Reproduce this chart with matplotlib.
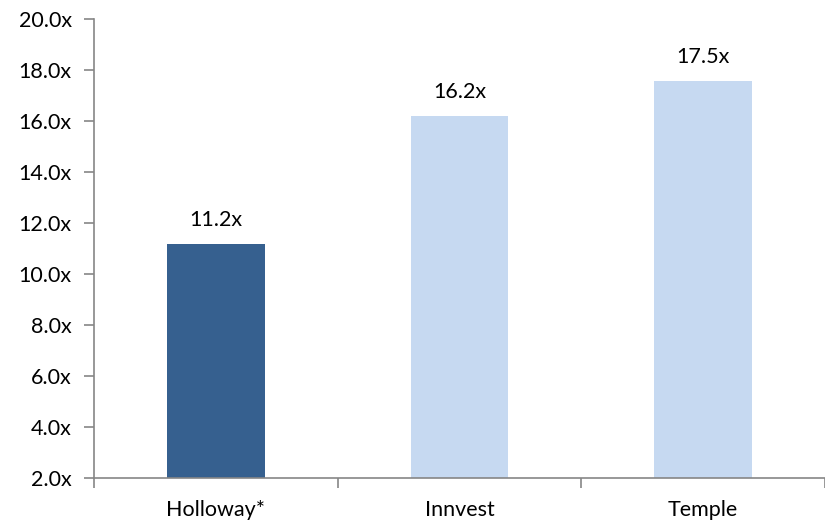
import matplotlib as mpl
mpl.use("Agg")
import matplotlib.pyplot as plt
from matplotlib.ticker import FixedLocator

categories = ["Holloway*", "Innvest", "Temple"]
values = [11.18, 16.2, 17.57]
value_labels = ["11.2x", "16.2x", "17.5x"]
bar_colors = ["#36608f", "#c6d9f1", "#c6d9f1"]
yticks = [2, 4, 6, 8, 10, 12, 14, 16, 18, 20]

plt.rcParams["font.family"] = ["Lato", "DejaVu Sans"]
plt.rcParams["font.size"] = 15.5

fig = plt.figure(figsize=(8.25, 5.21), dpi=100)
ax = fig.add_axes([94 / 825, 43 / 521, 731 / 825, 459 / 521])

x = list(range(len(categories)))
ax.bar(x, [v - 2 for v in values], bottom=2, width=0.4, color=bar_colors)

for xi, v, lab in zip(x, values, value_labels):
    ax.annotate(lab, (xi, v), xytext=(0, 10), textcoords="offset points",
                ha="center", va="bottom")

ax.set_xlim(-0.5, len(categories) - 0.5)
ax.set_ylim(2, 20)
ax.set_yticks(yticks)
ax.set_yticklabels(["%.1fx" % t for t in yticks])

# category labels centred, tick marks on the boundaries
ax.set_xticks(x)
ax.set_xticklabels(categories)
ax.tick_params(axis="x", which="major", length=0, pad=16)
ax.xaxis.set_minor_locator(FixedLocator([-0.5, 0.5, 1.5, 2.5]))
ax.tick_params(axis="x", which="minor", length=7, color="#868686", width=1.2)
ax.tick_params(axis="y", length=7, color="#868686", width=1.2, pad=9)

for s in ["top", "right"]:
    ax.spines[s].set_visible(False)
for s in ["left", "bottom"]:
    ax.spines[s].set_color("#868686")
    ax.spines[s].set_linewidth(1.2)

fig.savefig("out.png", dpi=100)
